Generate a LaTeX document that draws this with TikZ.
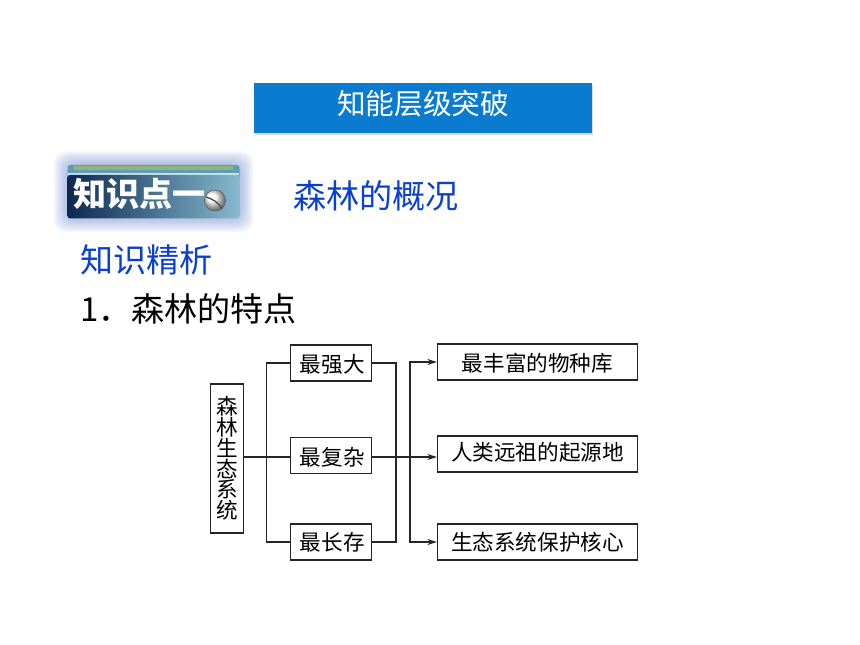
\documentclass[tikz,border=0pt]{standalone}
\usepackage{fontspec}
\setmainfont{Noto Sans CJK SC}
\usetikzlibrary{arrows.meta}
\definecolor{headblue}{HTML}{0A7BCF}
\definecolor{titleblue}{HTML}{0B3FD0}
\definecolor{badgedark}{HTML}{0C2850}
\definecolor{badgelight}{HTML}{86BACF}
\definecolor{badgetop}{HTML}{5E9DB5}
\definecolor{badgegreen}{HTML}{94B27C}
\definecolor{badgeglow}{HTML}{5F7FC8}
\tikzset{
    headbox/.style = {rectangle, fill=headblue, text=white, minimum width=253.5pt, minimum height=37.5pt, inner sep=0pt, font=\fontsize{21.5}{24}\selectfont},
    titletext/.style = {inner sep=0pt, anchor=west, font=\fontsize{24.8}{28}\selectfont},
    badgetext/.style = {inner sep=0pt, anchor=west, text=white, font=\fontsize{24.8}{28}\selectfont\bfseries},
    flowbox/.style = {rectangle, line width=1pt, draw=black!85, fill=white, inner sep=0pt, font=\fontsize{16.2}{16.4}\selectfont},
    midbox/.style = {flowbox, minimum width=60.75pt, minimum height=27pt},
    endbox/.style = {flowbox, minimum width=150pt, minimum height=27pt},
    rootbox/.style = {flowbox, minimum width=25.1pt, minimum height=111.75pt, align=center},
    edgen/.style = {line width=1pt, draw=black!85},
    edgea/.style = {line width=1pt, draw=black!85, -{Stealth[length=7pt,width=4.5pt]}},
}
\newcommand{\nudge}[2]{\raisebox{#1}[0.8em][0.2em]{#2}}
\begin{document}
\begin{tikzpicture}[x=0.75pt,y=-0.75pt]
\useasboundingbox (0,0) rectangle (860,645);
% header
\fill[gray!30] (254.5,85) rectangle (592.5,135);
\node[headbox] at (423,108) (head) {\nudge{1.5pt}{知能层级突破}};
% badge
\foreach \g in {14,13,...,1}{
  \fill[badgeglow,opacity=0.045,rounded corners=9pt] (67.5-\g,165-\g) rectangle (239.5+\g,218.5+\g);
}
\fill[badgetop,rounded corners=2pt] (67.5,165) rectangle (239.5,180);
\fill[badgegreen] (74,166.5) rectangle (233,170.5);
\fill[white!70!badgetop] (68,173) rectangle (239,175);
\shade[left color=badgedark,right color=badgelight,rounded corners=2pt] (67.5,175) rectangle (239.5,218.5);
\node[badgetext] at (73,194) (badge) {知识点一};
\shade[ball color=white,draw=gray!70!black,thin] (215,200.5) circle (10.5);
\draw[gray!60!black,line width=1pt] (206,197) .. controls (213,199) and (219,203) .. (222,209);
%
\node[titletext,text=titleblue] at (293,196) (topic) {森林的概况};
\node[titletext,text=titleblue] at (80,260) (sub) {知识精析};
\node[titletext] at (80,309) (point) {1．森林的特点};
% flow boxes
\node[rootbox] at (227,458.5) (root) {森\\[-0.8pt]林\\[-0.8pt]生\\[-0.8pt]态\\[-0.8pt]系\\[-0.8pt]统};
\node[midbox] at (331.2,363) (strong) {\nudge{-2pt}{\hspace{1.5pt}最强大}};
\node[midbox] at (331.2,455.5) (complex) {\nudge{-2.4pt}{\hspace{1.5pt}最复杂}};
\node[midbox] at (331.2,542) (long) {\nudge{-1.8pt}{\hspace{1.5pt}最长存}};
\node[endbox] at (537.5,362) (rich) {\nudge{-2.5pt}{最丰富的物种库}};
\node[endbox] at (537.5,454) (origin) {\nudge{-0.3pt}{人类远祖的起源地}};
\node[endbox] at (537.5,542) (core) {\nudge{-1.2pt}{生态系统保护核心}};
%
\coordinate (busl) at (266.7,457);
\coordinate (busm) at (396,457);
\coordinate (busr) at (410,457);
\draw[edgen] (root.east |- busl) -- (complex.west |- busl);
\draw[edgen] (strong.west) -| (busl) |- (long.west);
\draw[edgen] (strong.east) -| (busm) |- (long.east);
\draw[edgen] (complex.east |- busl) -- (busr);
\draw[edgea] (busr) -- (origin.west |- busl);
\draw[edgea] (busr) |- (rich.west);
\draw[edgea] (busr) |- (core.west);
\end{tikzpicture}
\end{document}
